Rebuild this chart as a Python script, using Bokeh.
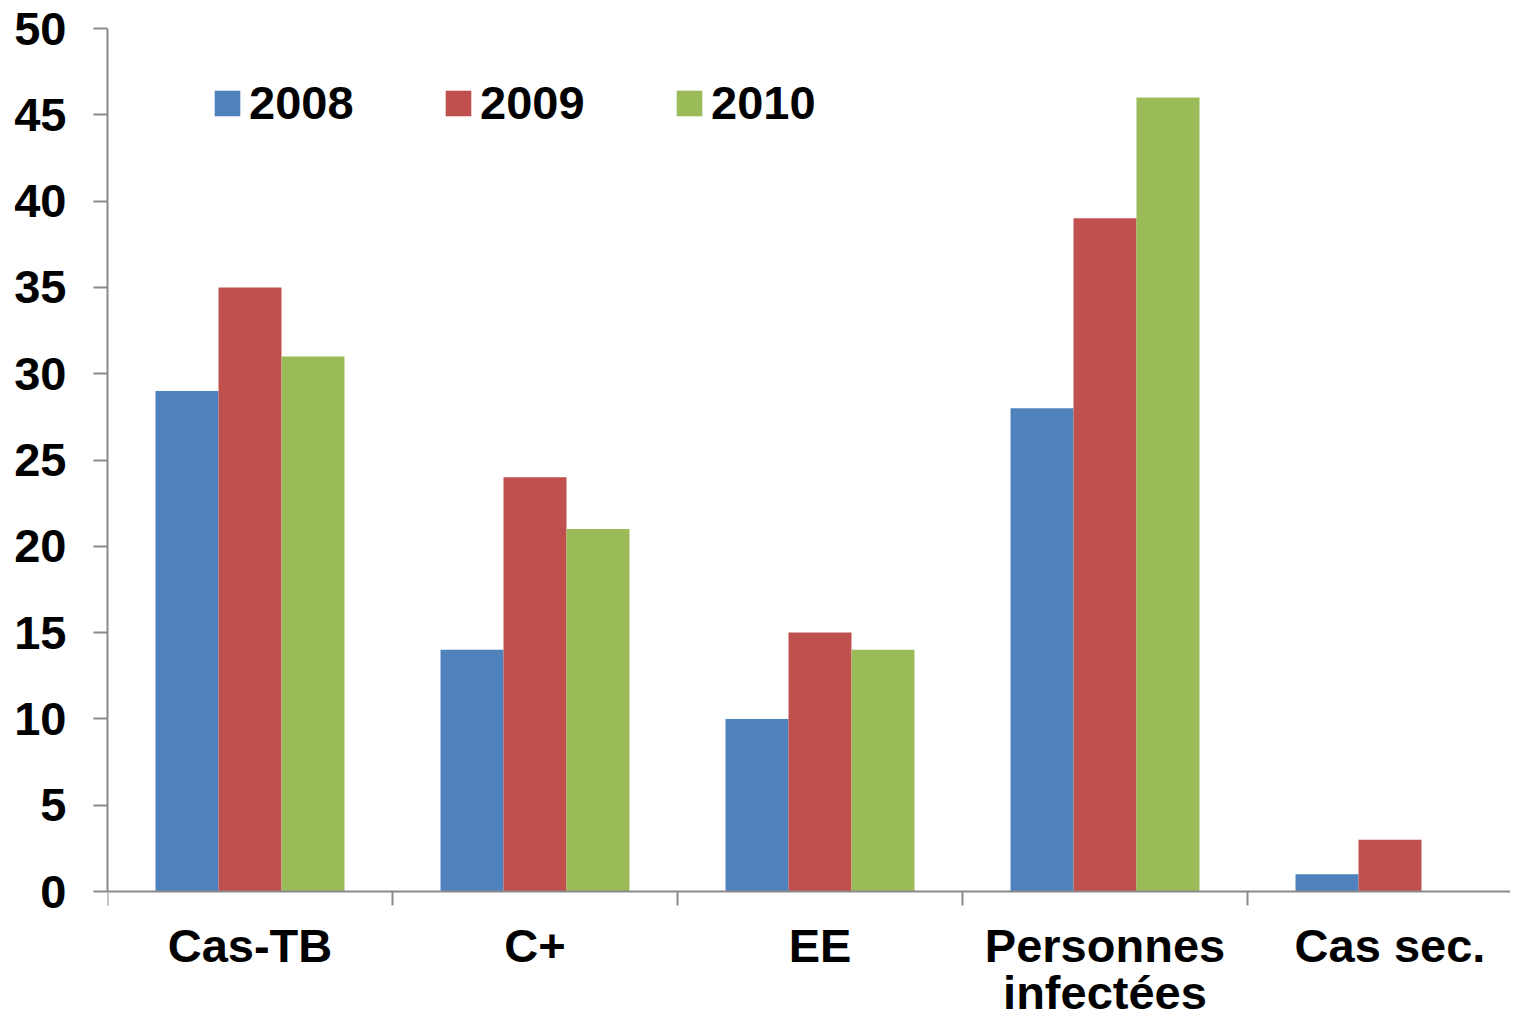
from bokeh.plotting import figure
from bokeh.models import Range1d, LinearAxis, FixedTicker, Legend, LegendItem, ColumnDataSource, Span
from bokeh.core.properties import value
from bokeh.embed import file_html
from bokeh.resources import INLINE

categories = ["Cas-TB", "C+", "EE", "Personnes\ninfectées", "Cas sec."]
years = ["2008", "2009", "2010"]
v2008 = [29, 14, 10, 28, 1]
v2009 = [35, 24, 15, 39, 3]
v2010 = [31, 21, 14, 46, 0]
colors = ["#4F81BD", "#C0504D", "#9BBB59"]
y_ticks = [0, 5, 10, 15, 20, 25, 30, 35, 40, 45, 50]

FONT = "Liberation Sans"
GREY = "#8a8a8a"
FS = "47px"

W, H = 1510, 1011
LEFT, TOP, ZERO_Y = 107, 28, 891
CAT_PX = 285
PX_PER_UNIT = (ZERO_Y - TOP) / 50.0
Y_START = -(H - ZERO_Y) / PX_PER_UNIT

p = figure(width=W, height=H, output_backend="svg", toolbar_location=None,
           x_range=Range1d(0, (W - LEFT) / CAT_PX), y_range=Range1d(Y_START, 50),
           min_border_left=LEFT, min_border_right=0, min_border_top=TOP,
           min_border_bottom=0,
           x_axis_type=None, y_axis_type=None)
p.outline_line_color = None
p.background_fill_color = "white"
p.border_fill_color = "white"

bw = 0.221
offsets = [-bw, 0, bw]
renderers = []
for vals, off, col, yr in zip([v2008, v2009, v2010], offsets, colors, years):
    src = ColumnDataSource(dict(x=[i + 0.5 + off for i in range(len(categories))], top=vals))
    r = p.vbar(x="x", top="top", bottom=0, width=bw, source=src, fill_color=col, line_color=None)
    renderers.append((yr, r))

# y axis (limited to 0..50)
yax = LinearAxis(ticker=FixedTicker(ticks=y_ticks), bounds=(0, 50))
yax.axis_line_color = GREY
yax.axis_line_width = 2
yax.major_tick_line_color = GREY
yax.major_tick_line_width = 2
yax.major_tick_out = 14
yax.major_tick_in = 0
yax.minor_tick_line_color = None
yax.major_label_standoff = 27
yax.major_label_text_font = FONT
yax.major_label_text_font_style = "bold"
yax.major_label_text_font_size = FS
yax.major_label_text_color = "black"
p.add_layout(yax, "left")
p.ygrid.ticker = FixedTicker(ticks=y_ticks)
p.ygrid.grid_line_color = GREY
p.ygrid.grid_line_width = 2
p.xgrid.grid_line_color = None

# category axis line, tick marks at category boundaries, labels under groups
p.add_layout(Span(location=0, dimension="width", line_color=GREY, line_width=2))
bounds = list(range(len(categories)))
tick_len = 14 / PX_PER_UNIT
p.segment(x0=bounds, y0=[0] * len(bounds), x1=bounds, y1=[-tick_len] * len(bounds),
          line_color=GREY, line_width=2)

label_y = -(918 - ZERO_Y) / PX_PER_UNIT
p.text(x=[i + 0.5 for i in range(len(categories))], y=[label_y] * len(categories),
       text=categories, text_align="center", text_baseline="top",
       text_font=value(FONT), text_font_style="bold", text_font_size=FS,
       text_color="black", text_line_height=0.9)

legend = Legend(items=[LegendItem(label=yr, renderers=[r]) for yr, r in renderers],
                orientation="horizontal", location=(104, 881))
legend.glyph_width = 32
legend.glyph_height = 32
legend.label_standoff = 6
legend.label_width = 193
legend.spacing = 0
legend.padding = 0
legend.margin = 0
legend.border_line_color = None
legend.background_fill_alpha = 0
legend.label_text_font = FONT
legend.label_text_font_style = "bold"
legend.label_text_font_size = FS
legend.label_text_color = "black"
p.add_layout(legend, "center")

open("out.html", "w").write(file_html(p, INLINE))
